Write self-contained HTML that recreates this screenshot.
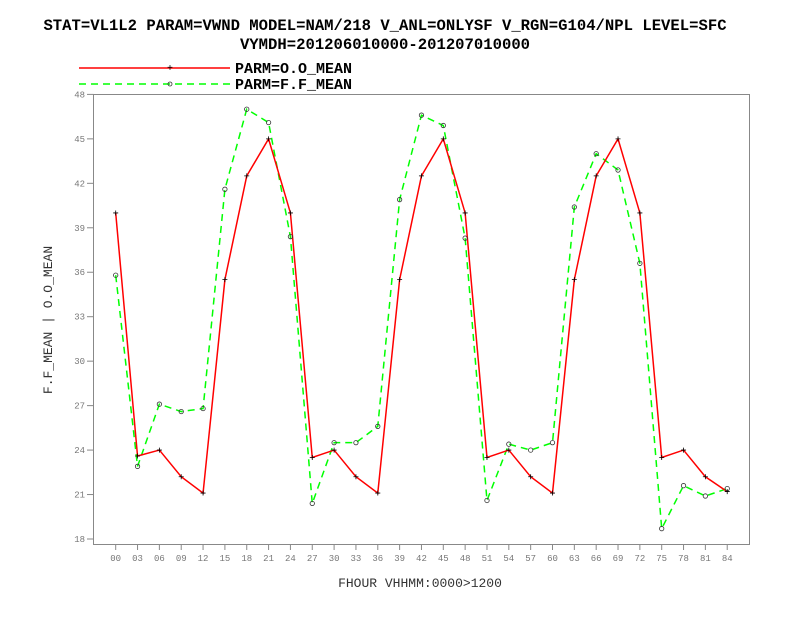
<!DOCTYPE html>
<html><head><meta charset="utf-8"><style>
body{margin:0;background:#fff}
svg text{font-family:"Liberation Mono",monospace}
</style></head><body>
<svg width="792" height="612" xmlns="http://www.w3.org/2000/svg">
<text x="385" y="30" text-anchor="middle" font-size="15.6" font-weight="bold">STAT=VL1L2 PARAM=VWND MODEL=NAM/218 V_ANL=ONLYSF V_RGN=G104/NPL LEVEL=SFC</text>
<text x="385" y="49" text-anchor="middle" font-size="15.6" font-weight="bold">VYMDH=201206010000-201207010000</text>
<g>
<line x1="79" y1="68" x2="230" y2="68" stroke="#f00" stroke-width="1.5"/>
<text x="170" y="71" font-size="10" text-anchor="middle">+</text>
<text x="235" y="73" font-size="15" font-weight="bold">PARM=O.O_MEAN</text>
<line x1="79" y1="84" x2="230" y2="84" stroke="#0f0" stroke-width="1.5" stroke-dasharray="7,5"/>
<circle cx="170" cy="84" r="2" fill="none" stroke="#333" stroke-width="0.8"/>
<text x="235" y="89" font-size="15" font-weight="bold">PARM=F.F_MEAN</text>
</g>
<rect x="93.5" y="94.5" width="656" height="450" fill="none" stroke="#888"/>
<g id="axes"></g>
<g id="marks"></g>
<text transform="translate(52,320) rotate(-90)" text-anchor="middle" font-size="13" fill="#333">F.F_MEAN | O.O_MEAN</text>
<text x="420" y="587" text-anchor="middle" font-size="13" fill="#333">FHOUR VHHMM:0000&gt;1200</text>
</svg>
<script>
const categories=["00","03","06","09","12","15","18","21","24","27","30","33","36","39","42","45","48","51","54","57","60","63","66","69","72","75","78","81","84"];
const obsValues=[40,23.6,24,22.2,21.1,35.5,42.5,45,40,23.5,24,22.2,21.1,35.5,42.5,45,40,23.5,24,22.2,21.1,35.5,42.5,45,40,23.5,24,22.2,21.2];
const fcstValues=[35.8,22.9,27.1,26.6,26.8,41.6,47.0,46.1,38.4,20.4,24.5,24.5,25.6,40.9,46.6,45.9,38.3,20.6,24.4,24.0,24.5,40.4,44.0,42.9,36.6,18.7,21.6,20.9,21.4];
const yTicks=[18,21,24,27,30,33,36,39,42,45,48];
const NS="http://www.w3.org/2000/svg";
function xs(i){return 115.7+i*21.84;}
function ys(v){return 539-(v-18)*14.82;}
const axes=document.getElementById('axes'),marks=document.getElementById('marks');
function mk(t,a,p){const e=document.createElementNS(NS,t);for(const k in a)e.setAttribute(k,a[k]);p.appendChild(e);return e;}
yTicks.forEach(v=>{
  const y=ys(v);
  const l=mk('line',{x1:87,x2:93.5,y1:y,y2:y,stroke:'#888'},axes);
  
  
  const t=mk('text',{x:85,y:y+3,'text-anchor':'end','font-size':9,fill:'#777'},axes);
  t.textContent=v;
  
  
});
categories.forEach((c,i)=>{
  const x=xs(i);
  const l=mk('line',{x1:x,x2:x,y1:544.5,y2:550,stroke:'#888'},axes);
  
  
  const t=mk('text',{x:x,y:561,'text-anchor':'middle','font-size':9,fill:'#777'},axes);
  t.textContent=c;
  
  
});
const fl=mk('polyline',{points:fcstValues.map((v,i)=>xs(i)+','+ys(v)).join(' '),fill:'none',stroke:'#0f0','stroke-width':1.5,'stroke-dasharray':'7,5'},marks);


const ol=mk('polyline',{points:obsValues.map((v,i)=>xs(i)+','+ys(v)).join(' '),fill:'none',stroke:'#f00','stroke-width':1.5},marks);


fcstValues.forEach((v,i)=>{
  const c=mk('circle',{cx:xs(i),cy:ys(v),r:2.2,fill:'none',stroke:'#333','stroke-width':0.8},marks);
  
  
});
obsValues.forEach((v,i)=>{
  const x=xs(i),y=ys(v);
  const p=mk('path',{d:`M${x-2.5},${y}H${x+2.5}M${x},${y-2.5}V${y+2.5}`,stroke:'#000','stroke-width':0.8},marks);
  
  
});
</script>
</body></html>
